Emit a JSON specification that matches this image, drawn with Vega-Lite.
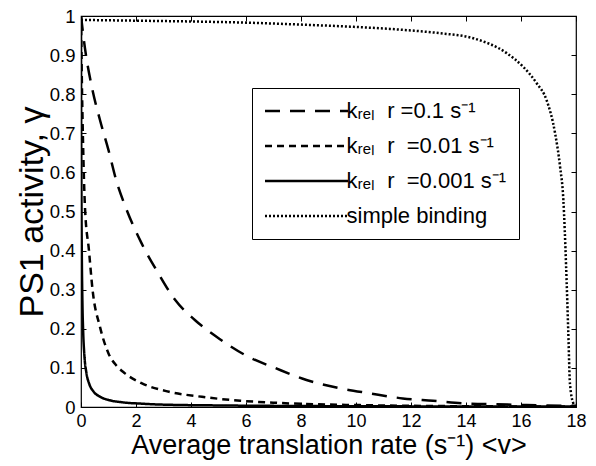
{
  "$schema": "https://vega.github.io/schema/vega-lite/v6.json",
  "width": 495,
  "height": 391,
  "autosize": {"type": "none"},
  "padding": {"left": 81, "top": 16, "right": 20, "bottom": 59},
  "background": "white",
  "config": {
    "font": "Liberation Sans",
    "view": {"stroke": "black", "strokeWidth": 1.2},
    "axis": {"grid": false, "domain": false, "labelFont": "Liberation Sans", "titleFont": "Liberation Sans", "labelColor": "black", "titleColor": "black", "tickColor": "black", "titleFontWeight": "normal", "labelFlush": false, "labelOverlap": false}
  },
  "data": {
    "values": [
      {"v": 0, "g": 1, "s": "kᵣₑₗ\u00a0\u00a0r\u00a0=0.1\u00a0s⁻¹"},
      {"v": 0.145, "g": 0.917, "s": "kᵣₑₗ\u00a0\u00a0r\u00a0=0.1\u00a0s⁻¹"},
      {"v": 0.39, "g": 0.82, "s": "kᵣₑₗ\u00a0\u00a0r\u00a0=0.1\u00a0s⁻¹"},
      {"v": 0.69, "g": 0.734, "s": "kᵣₑₗ\u00a0\u00a0r\u00a0=0.1\u00a0s⁻¹"},
      {"v": 1.0, "g": 0.657, "s": "kᵣₑₗ\u00a0\u00a0r\u00a0=0.1\u00a0s⁻¹"},
      {"v": 1.3, "g": 0.575, "s": "kᵣₑₗ\u00a0\u00a0r\u00a0=0.1\u00a0s⁻¹"},
      {"v": 1.6, "g": 0.515, "s": "kᵣₑₗ\u00a0\u00a0r\u00a0=0.1\u00a0s⁻¹"},
      {"v": 2.2, "g": 0.419, "s": "kᵣₑₗ\u00a0\u00a0r\u00a0=0.1\u00a0s⁻¹"},
      {"v": 2.81, "g": 0.342, "s": "kᵣₑₗ\u00a0\u00a0r\u00a0=0.1\u00a0s⁻¹"},
      {"v": 3.42, "g": 0.274, "s": "kᵣₑₗ\u00a0\u00a0r\u00a0=0.1\u00a0s⁻¹"},
      {"v": 4.15, "g": 0.222, "s": "kᵣₑₗ\u00a0\u00a0r\u00a0=0.1\u00a0s⁻¹"},
      {"v": 5.0, "g": 0.176, "s": "kᵣₑₗ\u00a0\u00a0r\u00a0=0.1\u00a0s⁻¹"},
      {"v": 6.07, "g": 0.129, "s": "kᵣₑₗ\u00a0\u00a0r\u00a0=0.1\u00a0s⁻¹"},
      {"v": 7.05, "g": 0.1, "s": "kᵣₑₗ\u00a0\u00a0r\u00a0=0.1\u00a0s⁻¹"},
      {"v": 8.2, "g": 0.069, "s": "kᵣₑₗ\u00a0\u00a0r\u00a0=0.1\u00a0s⁻¹"},
      {"v": 9.4, "g": 0.048, "s": "kᵣₑₗ\u00a0\u00a0r\u00a0=0.1\u00a0s⁻¹"},
      {"v": 10.5, "g": 0.035, "s": "kᵣₑₗ\u00a0\u00a0r\u00a0=0.1\u00a0s⁻¹"},
      {"v": 11.7, "g": 0.022, "s": "kᵣₑₗ\u00a0\u00a0r\u00a0=0.1\u00a0s⁻¹"},
      {"v": 12.8, "g": 0.016, "s": "kᵣₑₗ\u00a0\u00a0r\u00a0=0.1\u00a0s⁻¹"},
      {"v": 14.0, "g": 0.009, "s": "kᵣₑₗ\u00a0\u00a0r\u00a0=0.1\u00a0s⁻¹"},
      {"v": 15.1, "g": 0.007, "s": "kᵣₑₗ\u00a0\u00a0r\u00a0=0.1\u00a0s⁻¹"},
      {"v": 16.2, "g": 0.005, "s": "kᵣₑₗ\u00a0\u00a0r\u00a0=0.1\u00a0s⁻¹"},
      {"v": 18, "g": 0.003, "s": "kᵣₑₗ\u00a0\u00a0r\u00a0=0.1\u00a0s⁻¹"},

      {"v": 0, "g": 1, "s": "kᵣₑₗ\u00a0\u00a0r\u00a0\u00a0=0.01\u00a0s⁻¹"},
      {"v": 0.03, "g": 0.84, "s": "kᵣₑₗ\u00a0\u00a0r\u00a0\u00a0=0.01\u00a0s⁻¹"},
      {"v": 0.07, "g": 0.69, "s": "kᵣₑₗ\u00a0\u00a0r\u00a0\u00a0=0.01\u00a0s⁻¹"},
      {"v": 0.145, "g": 0.51, "s": "kᵣₑₗ\u00a0\u00a0r\u00a0\u00a0=0.01\u00a0s⁻¹"},
      {"v": 0.29, "g": 0.4, "s": "kᵣₑₗ\u00a0\u00a0r\u00a0\u00a0=0.01\u00a0s⁻¹"},
      {"v": 0.42, "g": 0.3, "s": "kᵣₑₗ\u00a0\u00a0r\u00a0\u00a0=0.01\u00a0s⁻¹"},
      {"v": 0.69, "g": 0.205, "s": "kᵣₑₗ\u00a0\u00a0r\u00a0\u00a0=0.01\u00a0s⁻¹"},
      {"v": 1.0, "g": 0.137, "s": "kᵣₑₗ\u00a0\u00a0r\u00a0\u00a0=0.01\u00a0s⁻¹"},
      {"v": 1.3, "g": 0.105, "s": "kᵣₑₗ\u00a0\u00a0r\u00a0\u00a0=0.01\u00a0s⁻¹"},
      {"v": 1.6, "g": 0.086, "s": "kᵣₑₗ\u00a0\u00a0r\u00a0\u00a0=0.01\u00a0s⁻¹"},
      {"v": 2.2, "g": 0.061, "s": "kᵣₑₗ\u00a0\u00a0r\u00a0\u00a0=0.01\u00a0s⁻¹"},
      {"v": 3.2, "g": 0.039, "s": "kᵣₑₗ\u00a0\u00a0r\u00a0\u00a0=0.01\u00a0s⁻¹"},
      {"v": 4.4, "g": 0.026, "s": "kᵣₑₗ\u00a0\u00a0r\u00a0\u00a0=0.01\u00a0s⁻¹"},
      {"v": 5.8, "g": 0.016, "s": "kᵣₑₗ\u00a0\u00a0r\u00a0\u00a0=0.01\u00a0s⁻¹"},
      {"v": 7.0, "g": 0.011, "s": "kᵣₑₗ\u00a0\u00a0r\u00a0\u00a0=0.01\u00a0s⁻¹"},
      {"v": 8.5, "g": 0.007, "s": "kᵣₑₗ\u00a0\u00a0r\u00a0\u00a0=0.01\u00a0s⁻¹"},
      {"v": 10, "g": 0.005, "s": "kᵣₑₗ\u00a0\u00a0r\u00a0\u00a0=0.01\u00a0s⁻¹"},
      {"v": 12, "g": 0.003, "s": "kᵣₑₗ\u00a0\u00a0r\u00a0\u00a0=0.01\u00a0s⁻¹"},
      {"v": 14, "g": 0.002, "s": "kᵣₑₗ\u00a0\u00a0r\u00a0\u00a0=0.01\u00a0s⁻¹"},
      {"v": 16, "g": 0.0015, "s": "kᵣₑₗ\u00a0\u00a0r\u00a0\u00a0=0.01\u00a0s⁻¹"},
      {"v": 18, "g": 0.001, "s": "kᵣₑₗ\u00a0\u00a0r\u00a0\u00a0=0.01\u00a0s⁻¹"},

      {"v": 0, "g": 1, "s": "kᵣₑₗ\u00a0\u00a0r\u00a0\u00a0=0.001\u00a0s⁻¹"},
      {"v": 0.005, "g": 0.79, "s": "kᵣₑₗ\u00a0\u00a0r\u00a0\u00a0=0.001\u00a0s⁻¹"},
      {"v": 0.01, "g": 0.653, "s": "kᵣₑₗ\u00a0\u00a0r\u00a0\u00a0=0.001\u00a0s⁻¹"},
      {"v": 0.02, "g": 0.485, "s": "kᵣₑₗ\u00a0\u00a0r\u00a0\u00a0=0.001\u00a0s⁻¹"},
      {"v": 0.03, "g": 0.385, "s": "kᵣₑₗ\u00a0\u00a0r\u00a0\u00a0=0.001\u00a0s⁻¹"},
      {"v": 0.05, "g": 0.273, "s": "kᵣₑₗ\u00a0\u00a0r\u00a0\u00a0=0.001\u00a0s⁻¹"},
      {"v": 0.08, "g": 0.19, "s": "kᵣₑₗ\u00a0\u00a0r\u00a0\u00a0=0.001\u00a0s⁻¹"},
      {"v": 0.12, "g": 0.135, "s": "kᵣₑₗ\u00a0\u00a0r\u00a0\u00a0=0.001\u00a0s⁻¹"},
      {"v": 0.2, "g": 0.086, "s": "kᵣₑₗ\u00a0\u00a0r\u00a0\u00a0=0.001\u00a0s⁻¹"},
      {"v": 0.3, "g": 0.059, "s": "kᵣₑₗ\u00a0\u00a0r\u00a0\u00a0=0.001\u00a0s⁻¹"},
      {"v": 0.45, "g": 0.04, "s": "kᵣₑₗ\u00a0\u00a0r\u00a0\u00a0=0.001\u00a0s⁻¹"},
      {"v": 0.7, "g": 0.026, "s": "kᵣₑₗ\u00a0\u00a0r\u00a0\u00a0=0.001\u00a0s⁻¹"},
      {"v": 1.0, "g": 0.018, "s": "kᵣₑₗ\u00a0\u00a0r\u00a0\u00a0=0.001\u00a0s⁻¹"},
      {"v": 1.5, "g": 0.012, "s": "kᵣₑₗ\u00a0\u00a0r\u00a0\u00a0=0.001\u00a0s⁻¹"},
      {"v": 2.2, "g": 0.0085, "s": "kᵣₑₗ\u00a0\u00a0r\u00a0\u00a0=0.001\u00a0s⁻¹"},
      {"v": 3, "g": 0.006, "s": "kᵣₑₗ\u00a0\u00a0r\u00a0\u00a0=0.001\u00a0s⁻¹"},
      {"v": 5, "g": 0.004, "s": "kᵣₑₗ\u00a0\u00a0r\u00a0\u00a0=0.001\u00a0s⁻¹"},
      {"v": 8, "g": 0.0025, "s": "kᵣₑₗ\u00a0\u00a0r\u00a0\u00a0=0.001\u00a0s⁻¹"},
      {"v": 12, "g": 0.0016, "s": "kᵣₑₗ\u00a0\u00a0r\u00a0\u00a0=0.001\u00a0s⁻¹"},
      {"v": 18, "g": 0.001, "s": "kᵣₑₗ\u00a0\u00a0r\u00a0\u00a0=0.001\u00a0s⁻¹"},

      {"v": 0, "g": 0.99, "s": "simple binding"},
      {"v": 2, "g": 0.988, "s": "simple binding"},
      {"v": 4, "g": 0.986, "s": "simple binding"},
      {"v": 6, "g": 0.983, "s": "simple binding"},
      {"v": 8, "g": 0.978, "s": "simple binding"},
      {"v": 10, "g": 0.972, "s": "simple binding"},
      {"v": 11, "g": 0.968, "s": "simple binding"},
      {"v": 12, "g": 0.963, "s": "simple binding"},
      {"v": 13.05, "g": 0.956, "s": "simple binding"},
      {"v": 14.27, "g": 0.943, "s": "simple binding"},
      {"v": 15.48, "g": 0.905, "s": "simple binding"},
      {"v": 16.08, "g": 0.87, "s": "simple binding"},
      {"v": 16.57, "g": 0.828, "s": "simple binding"},
      {"v": 16.93, "g": 0.785, "s": "simple binding"},
      {"v": 17.24, "g": 0.7, "s": "simple binding"},
      {"v": 17.42, "g": 0.615, "s": "simple binding"},
      {"v": 17.54, "g": 0.53, "s": "simple binding"},
      {"v": 17.64, "g": 0.36, "s": "simple binding"},
      {"v": 17.72, "g": 0.19, "s": "simple binding"},
      {"v": 17.78, "g": 0.06, "s": "simple binding"},
      {"v": 17.9, "g": 0.01, "s": "simple binding"},
      {"v": 18, "g": 0, "s": "simple binding"}
    ]
  },
  "layer": [
    {
      "mark": {"type": "line", "color": "black", "strokeWidth": 2.5, "interpolate": "monotone", "clip": true},
      "encoding": {
        "x": {"field": "v", "type": "quantitative", "scale": {"domain": [0, 18], "nice": false, "zero": false},
          "axis": {"orient": "bottom", "values": [0,2,4,6,8,10,12,14,16,18], "tickSize": -5, "labelFontSize": 18, "labelPadding": 10, "title": "Average translation rate (s⁻¹)  <v>", "titleFontSize": 27, "titlePadding": 2}},
        "y": {"field": "g", "type": "quantitative", "scale": {"domain": [0, 1], "nice": false},
          "axis": {"orient": "left", "values": [0,0.1,0.2,0.3,0.4,0.5,0.6,0.7,0.8,0.9,1], "format": ".1~f", "tickSize": -5, "labelFontSize": 18.5, "labelPadding": 11, "title": "PS1 activity, γ", "titleFontSize": 34, "titlePadding": 0}},
        "detail": {"field": "s", "type": "nominal"},
        "strokeDash": {"field": "s", "type": "nominal",
          "scale": {"domain": ["kᵣₑₗ\u00a0\u00a0r\u00a0=0.1\u00a0s⁻¹", "kᵣₑₗ\u00a0\u00a0r\u00a0\u00a0=0.01\u00a0s⁻¹", "kᵣₑₗ\u00a0\u00a0r\u00a0\u00a0=0.001\u00a0s⁻¹", "simple binding"], "range": [[15, 10], [7, 5], [1, 0], [2, 2]]},
          "legend": {"title": null, "orient": "none", "legendX": 171, "legendY": 72, "strokeColor": "black", "fillColor": "white", "padding": 12,
            "symbolType": "M-8.3,0H8.3", "symbolSize": 100, "symbolOffset": 31.5, "symbolStrokeColor": "black", "symbolStrokeWidth": 2.5, "symbolFillColor": "transparent",
            "labelOffset": 29, "labelFontSize": 22, "labelFont": "Liberation Sans", "labelColor": "black", "labelLimit": 300, "rowPadding": 13}}
      }
    },
    {
      "mark": {"type": "line", "opacity": 0},
      "encoding": {
        "x": {"field": "v", "type": "quantitative", "scale": {"domain": [0, 18], "nice": false, "zero": false},
          "axis": {"orient": "top", "values": [0,2,4,6,8,10,12,14,16,18], "tickSize": -5, "labels": false, "title": null}},
        "y": {"field": "g", "type": "quantitative", "scale": {"domain": [0, 1], "nice": false},
          "axis": {"orient": "right", "values": [0,0.1,0.2,0.3,0.4,0.5,0.6,0.7,0.8,0.9,1], "tickSize": -5, "labels": false, "title": null}},
        "detail": {"field": "s", "type": "nominal"}
      }
    }
  ],
  "resolve": {"axis": {"x": "independent", "y": "independent"}}
}
